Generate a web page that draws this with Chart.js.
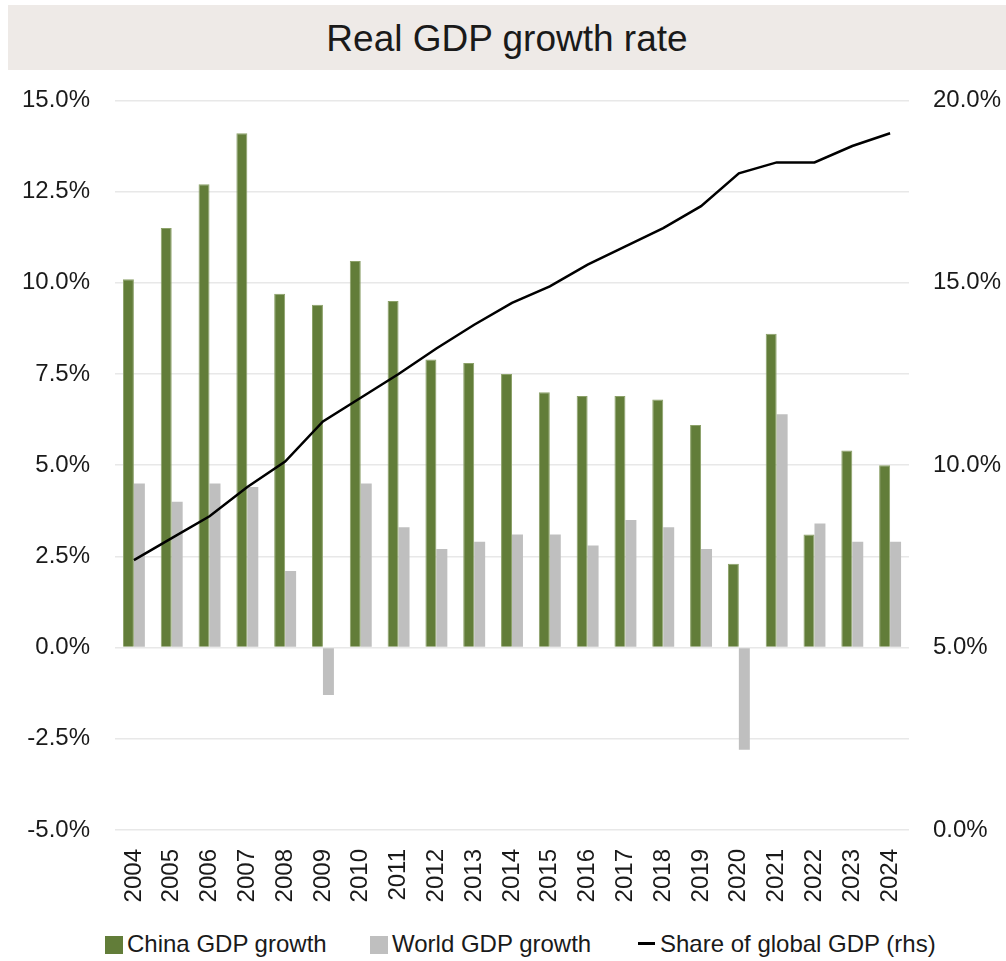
<!DOCTYPE html>
<html>
<head>
<meta charset="utf-8">
<script src="https://cdn.jsdelivr.net/npm/chart.js@4"></script>
<style>
    body { margin: 0; width: 1006px; height: 961px; background: #fff; overflow: hidden; position: relative;
           font-family: "Liberation Sans", Arial, sans-serif; color: #1a1a1a; }
    #title { position: absolute; left: 8px; top: 5px; width: 998px; height: 65px; background: #EEEAE7;
             text-align: center; line-height: 67px; font-size: 37px; z-index: 2; }
    #wrap { position: absolute; left: 0; top: 61px; width: 1006px; height: 859px; }
    #legend { position: absolute; top: 930px; left: 0; width: 1006px; height: 28px; font-size: 24px; }
    .item { position: absolute; top: 0; line-height: 28px; white-space: nowrap; }
    .box { display: inline-block; width: 18px; height: 18px; vertical-align: -2px; margin-right: 4px; }
    .ln { display: inline-block; width: 17px; height: 3px; background: #000; vertical-align: 7px; margin-right: 5px; }
</style>
</head>
<body>
<div id="title">Real GDP growth rate</div>
<div id="wrap"><canvas id="gdpChart"></canvas></div>
<div id="legend">
    <span class="item" style="left:105px"><span class="box" style="background:#627D39"></span>China GDP growth</span>
    <span class="item" style="left:370px"><span class="box" style="background:#BFBFBF"></span>World GDP growth</span>
    <span class="item" style="left:638px"><span class="ln"></span>Share of global GDP (rhs)</span>
</div>
<script>
// ===== データ =====
const years = ['2004', '2005', '2006', '2007', '2008', '2009', '2010', '2011', '2012', '2013', '2014',
               '2015', '2016', '2017', '2018', '2019', '2020', '2021', '2022', '2023', '2024'];
const chinaGrowth = [10.1, 11.5, 12.7, 14.1, 9.7, 9.4, 10.6, 9.5, 7.9, 7.8, 7.5,
                     7.0, 6.9, 6.9, 6.8, 6.1, 2.3, 8.6, 3.1, 5.4, 5.0];
const worldGrowth = [4.5, 4.0, 4.5, 4.4, 2.1, -1.3, 4.5, 3.3, 2.7, 2.9, 3.1,
                     3.1, 2.8, 3.5, 3.3, 2.7, -2.8, 6.4, 3.4, 2.9, 2.9];
const globalShare = [7.4, 8.0, 8.6, 9.4, 10.1, 11.2, 11.85, 12.5, 13.2, 13.85, 14.45,
                     14.9, 15.5, 16.0, 16.5, 17.1, 18.0, 18.3, 18.3, 18.75, 19.1];
const leftTicks = [-5, -2.5, 0, 2.5, 5, 7.5, 10, 12.5, 15];
const rightTicks = [0, 5, 10, 15, 20];

const tickFont = { family: '"Liberation Sans", Arial, sans-serif', size: 24 };
const tickColor = '#1a1a1a';

// ===== グラフ描画 =====
const ctx = document.getElementById('gdpChart').getContext('2d');
new Chart(ctx, {
    data: {
        labels: years,
        datasets: [
            {
                type: 'line',
                label: 'Share of global GDP (rhs)',
                data: globalShare,
                yAxisID: 'y1',
                borderColor: '#000',
                borderWidth: 2.5,
                pointRadius: 0,
                tension: 0,
                order: 0
            },
            {
                type: 'bar',
                label: 'China GDP growth',
                data: chinaGrowth,
                yAxisID: 'y',
                backgroundColor: '#627D39',
                borderColor: '#8CA169',
                borderWidth: 1,
                categoryPercentage: 0.58,
                barPercentage: 1.0,
                order: 1
            },
            {
                type: 'bar',
                label: 'World GDP growth',
                data: worldGrowth,
                yAxisID: 'y',
                backgroundColor: '#BFBFBF',
                borderWidth: 0,
                categoryPercentage: 0.58,
                barPercentage: 1.0,
                order: 2
            }
        ]
    },
    options: {
        responsive: true,
        maintainAspectRatio: false,
        animation: false,
        layout: { padding: { top: 21, left: 0, right: 0, bottom: 0 } },
        plugins: {
            legend: { display: false },
            tooltip: { enabled: false }
        },
        scales: {
            x: {
                grid: { display: false },
                border: { display: false },
                ticks: {
                    font: tickFont, color: tickColor,
                    minRotation: 90, maxRotation: 90, padding: 11
                },
                afterFit: (scale) => { scale.height = 90; }
            },
            y: {
                position: 'left',
                min: -5, max: 15,
                afterBuildTicks: (scale) => { scale.ticks = leftTicks.map(v => ({ value: v })); },
                grid: { color: '#E8E8E8', lineWidth: 1.5, drawTicks: false },
                border: { display: false },
                ticks: {
                    font: tickFont, color: tickColor, padding: 25,
                    callback: (v) => v.toFixed(1) + '%'
                },
                afterFit: (scale) => { scale.width = 115; }
            },
            y1: {
                position: 'right',
                min: 0, max: 20,
                afterBuildTicks: (scale) => { scale.ticks = rightTicks.map(v => ({ value: v })); },
                grid: { display: false, drawTicks: false },
                border: { display: false },
                ticks: {
                    font: tickFont, color: tickColor, padding: 24,
                    callback: (v) => v.toFixed(1) + '%'
                },
                afterFit: (scale) => { scale.width = 97; }
            }
        }
    }
});
</script>
</body>
</html>
